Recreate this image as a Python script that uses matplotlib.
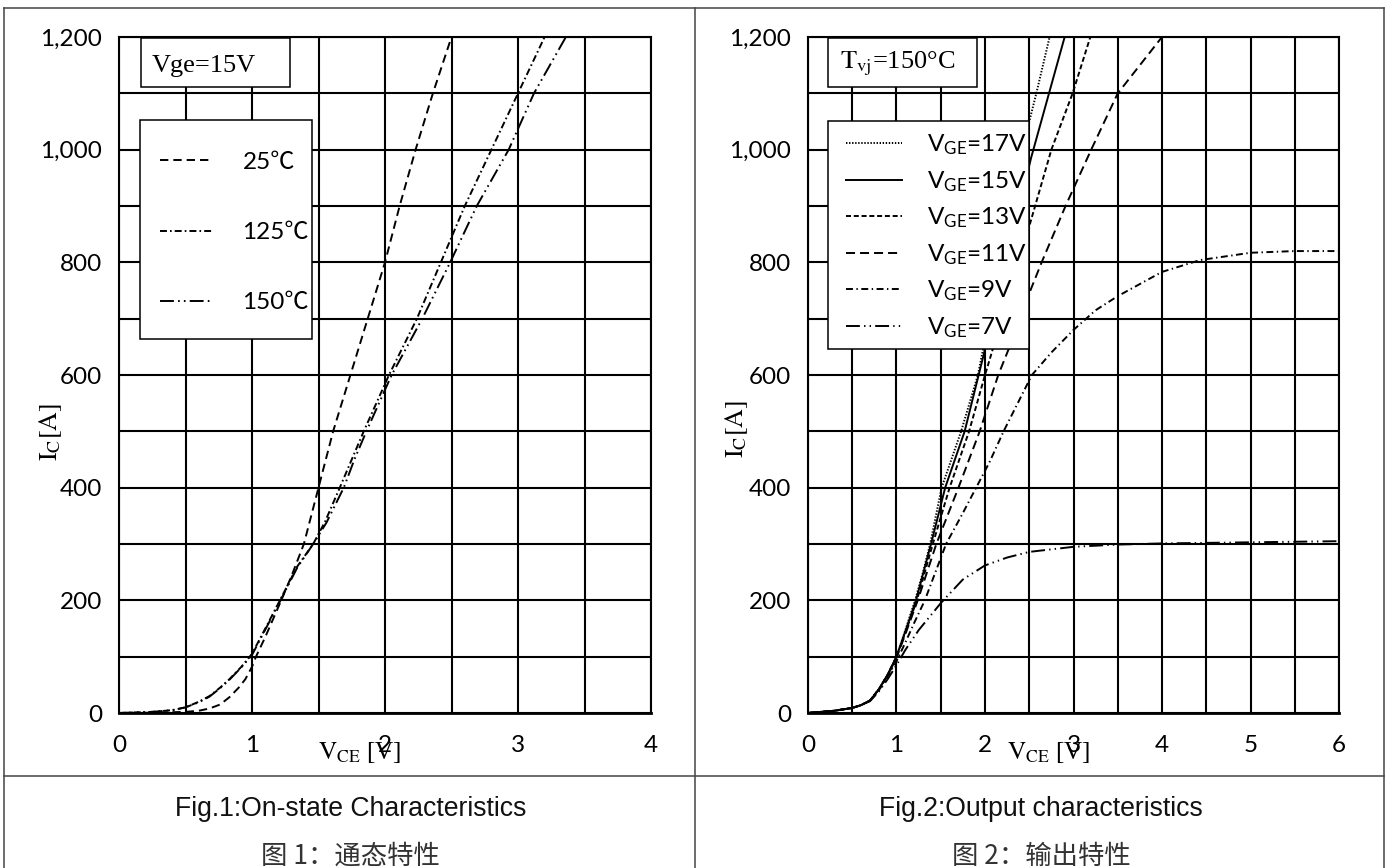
import matplotlib
matplotlib.use('Agg')
import matplotlib.pyplot as plt
from matplotlib.lines import Line2D
from matplotlib.patches import Rectangle
from matplotlib.ticker import FuncFormatter, MultipleLocator
from matplotlib.font_manager import FontProperties

# ---------------- data ----------------
# Fig.1  On-state characteristics (Vge = 15 V)
v_25 = [0.00, 0.25, 0.50, 0.60, 0.68, 0.76, 0.83, 0.90, 0.95, 1.00, 1.03, 1.10, 1.22, 1.30, 1.39,
        1.50, 1.61, 1.74, 1.87, 2.00, 2.11, 2.23, 2.36, 2.50]
i_25 = [0, 0.5, 2, 4, 8, 15, 28, 45, 60, 82, 100, 135, 200, 245, 300,
        400, 500, 600, 700, 800, 900, 1000, 1100, 1200]
v_125 = [0.00, 0.25, 0.40, 0.50, 0.60, 0.68, 0.76, 0.83, 0.92, 1.00, 1.10, 1.21, 1.34, 1.46, 1.55,
         1.66, 1.75, 1.84, 2.03, 2.24, 2.42, 2.60, 2.80, 3.00, 3.20]
i_125 = [0, 2, 5, 10, 20, 30, 45, 60, 82, 105, 150, 200, 260, 300, 340,
         400, 450, 500, 600, 700, 800, 900, 1000, 1100, 1200]
v_150 = [0.00, 0.25, 0.40, 0.50, 0.60, 0.68, 0.76, 0.83, 0.92, 1.00, 1.10, 1.21, 1.34, 1.46, 1.56,
         1.69, 1.77, 1.86, 2.05, 2.28, 2.49, 2.69, 2.93, 3.12, 3.36]
i_150 = [0, 2, 5, 10, 19, 29, 44, 59, 81, 103, 148, 198, 258, 300, 338,
         400, 450, 500, 600, 700, 800, 900, 1000, 1100, 1200]
temp_labels = ['25℃', '125℃', '150℃']

# Fig.2  Output characteristics (Tvj = 150 °C)
v_17 = [0.00, 0.30, 0.50, 0.60, 0.70, 0.80, 0.90, 1.00, 1.10, 1.21, 1.30, 1.38, 1.51, 1.62, 1.73,
        1.92, 2.20, 2.50, 2.58, 2.73]
i_17 = [0, 4, 9, 14, 22, 42, 68, 100, 147, 200, 250, 300, 400, 450, 500,
        600, 820, 1050, 1100, 1200]
v_15 = [0.00, 0.30, 0.50, 0.60, 0.70, 0.80, 0.90, 1.00, 1.10, 1.22, 1.39, 1.55, 1.77, 1.96, 2.24,
        2.52, 2.90]
i_15 = [0, 4, 9, 14, 22, 42, 68, 100, 145, 200, 300, 400, 500, 620, 800,
        985, 1200]
v_13 = [0.00, 0.30, 0.50, 0.60, 0.70, 0.80, 0.90, 1.00, 1.10, 1.23, 1.41, 1.60, 1.82, 2.00, 2.09,
        2.50, 2.75, 2.99, 3.19]
i_13 = [0, 4, 9, 14, 22, 42, 68, 100, 143, 200, 300, 400, 500, 600, 647,
        864, 1000, 1100, 1200]
v_11 = [0.00, 0.30, 0.50, 0.60, 0.70, 0.80, 0.90, 1.00, 1.10, 1.24, 1.45, 1.70, 1.94, 2.15, 2.27,
        2.50, 2.64, 2.91, 3.20, 3.50, 4.00]
i_11 = [0, 4, 9, 14, 22, 42, 67, 98, 140, 200, 300, 400, 500, 600, 647,
        745, 800, 900, 1000, 1100, 1200]
v_9 = [0.00, 0.30, 0.50, 0.60, 0.70, 0.80, 0.90, 1.00, 1.10, 1.20, 1.32, 1.44, 1.56, 1.75, 1.90,
       2.05, 2.21, 2.37, 2.53, 2.75, 3.00, 3.25, 3.50, 4.00, 4.43, 5.00, 5.50, 6.00]
i_9 = [0, 4, 9, 14, 22, 40, 65, 92, 125, 160, 200, 250, 300, 355, 400,
       445, 500, 550, 600, 640, 680, 715, 740, 783, 804, 817, 820, 820]
v_7 = [0.00, 0.30, 0.50, 0.60, 0.70, 0.80, 0.90, 1.00, 1.10, 1.25, 1.50, 1.75, 2.00, 2.25, 2.50,
       3.00, 3.50, 4.00, 5.00, 6.00]
i_7 = [0, 4, 9, 14, 21, 38, 60, 85, 112, 147, 195, 237, 262, 276, 286,
       295, 299, 301, 303, 305]
vge_labels = [r'$\mathrm{V_{GE}}$=17V', r'$\mathrm{V_{GE}}$=15V', r'$\mathrm{V_{GE}}$=13V',
              r'$\mathrm{V_{GE}}$=11V', r'$\mathrm{V_{GE}}$=9V', r'$\mathrm{V_{GE}}$=7V']

x_ticks_1 = [0, 1, 2, 3, 4]
x_ticks_2 = [0, 1, 2, 3, 4, 5, 6]
y_ticks = [0, 200, 400, 600, 800, 1000, 1200]

caption_en = ['Fig.1:On-state Characteristics', 'Fig.2:Output characteristics']
caption_cn = ['图 1：通态特性', '图 2：输出特性']

# ---------------- style ----------------
plt.rcParams['font.family'] = ['Lato', 'Noto Sans CJK SC', 'DejaVu Sans']
plt.rcParams['mathtext.fontset'] = 'custom'
plt.rcParams['mathtext.rm'] = 'Lato'
plt.rcParams['mathtext.it'] = 'Lato:italic'
plt.rcParams['mathtext.bf'] = 'Lato:bold'
plt.rcParams['lines.scale_dashes'] = False

W, H = 1386, 868
fig = plt.figure(figsize=(W / 100, H / 100), dpi=100)

ax1 = fig.add_axes([119 / W, 1 - 713 / H, 532 / W, 676 / H])
ax2 = fig.add_axes([808 / W, 1 - 713 / H, 531 / W, 676 / H])

LW = 1.4
ls_25 = (0, (6.0, 3.6))
ls_125 = (0, (5.0, 2.2, 1.2, 2.2))
ls_150 = (0, (10, 3, 1.2, 3, 1.2, 3))
ls_17 = (0, (1.0, 1.2))
ls_15 = '-'
ls_13 = (0, (3.6, 2.0))
ls_11 = (0, (6.5, 3.6))
ls_9 = (0, (5.0, 2.5, 1.0, 2.5))
ls_7 = (0, (10, 3, 1.0, 3, 1.0, 3))

serif = ['Liberation Serif', 'DejaVu Serif']


def style_axes(ax, xmax, xticks):
    ax.set_xlim(0, xmax)
    ax.set_ylim(0, 1200)
    ax.set_xticks(xticks)
    ax.set_yticks(y_ticks)
    ax.xaxis.set_minor_locator(MultipleLocator(0.5))
    ax.yaxis.set_minor_locator(MultipleLocator(100))
    ax.grid(True, which='both', color='black', lw=1.5)
    ax.set_axisbelow(True)
    ax.tick_params(which='both', length=0)
    ax.tick_params(axis='y', pad=12, labelsize=17.5)
    ax.tick_params(axis='x', pad=16, labelsize=17.5)
    ax.yaxis.set_major_formatter(FuncFormatter(lambda v, p: f'{int(v):,}'))
    for s in ax.spines.values():
        s.set_linewidth(1.5)
        s.set_color('black')
    ax.spines['bottom'].set_linewidth(2.0)


style_axes(ax1, 4, x_ticks_1)
style_axes(ax2, 6, x_ticks_2)

# ---- Fig.1 curves ----
l25, = ax1.plot(v_25, i_25, color='black', lw=LW, ls=ls_25, zorder=2)
l125, = ax1.plot(v_125, i_125, color='black', lw=LW, ls=ls_125, zorder=2)
l150, = ax1.plot(v_150, i_150, color='black', lw=LW, ls=ls_150, zorder=2)

# ---- Fig.2 curves ----
lines2 = []
for v, i, ls in [(v_17, i_17, ls_17), (v_15, i_15, ls_15), (v_13, i_13, ls_13),
                 (v_11, i_11, ls_11), (v_9, i_9, ls_9), (v_7, i_7, ls_7)]:
    ln, = ax2.plot(v, i, color='black', lw=LW, ls=ls, zorder=2)
    lines2.append(ln)


def box(ax, x0, y0, x1, y1):
    ax.add_patch(Rectangle((x0, y0), x1 - x0, y1 - y0, transform=ax.transAxes,
                           facecolor='white', edgecolor='black', lw=1.1,
                           zorder=4, clip_on=False))


# condition boxes
box(ax1, 0.0414, 0.926, 0.3214, 0.9985)
ax1.text(0.062, 0.9487, 'Vge=15V', transform=ax1.transAxes, family=serif, size=19,
         ha='left', va='baseline', zorder=6)
box(ax2, 0.0386, 0.9265, 0.3183, 0.9985)
ax2.text(0.061, 0.9537, r'$\mathrm{T_{vj}}$=150°C', transform=ax2.transAxes, family=serif,
         size=19, ha='left', va='baseline', zorder=6, math_fontfamily='stix')

# legend boxes
box(ax1, 0.0395, 0.5533, 0.3628, 0.8772)
leg1 = ax1.legend([l25, l125, l150], temp_labels, loc='upper left',
                  bbox_to_anchor=(0.0771, 0.8300), bbox_transform=ax1.transAxes,
                  frameon=False, borderpad=0, borderaxespad=0, handlelength=2.12,
                  handletextpad=1.27, labelspacing=2.02,
                  prop=FontProperties(family=['Lato', 'Noto Sans CJK SC'], size=17.5))
leg1.set_zorder(6)

box(ax2, 0.0377, 0.5385, 0.4153, 0.876)
leg2 = ax2.legend(lines2, vge_labels, loc='upper left',
                  bbox_to_anchor=(0.0716, 0.8585), bbox_transform=ax2.transAxes,
                  frameon=False, borderpad=0, borderaxespad=0, handlelength=2.29,
                  handletextpad=1.06, labelspacing=0.49,
                  prop=FontProperties(family=['Lato', 'Noto Sans CJK SC'], size=17.5))
leg2.set_zorder(6)

# axis labels (placed as in the reference, overlapping the middle tick label)
for ax in (ax1, ax2):
    ax.text(0.453, -0.068, r'$\mathrm{V_{CE}}$ [V]', transform=ax.transAxes, family=serif,
            size=18, ha='center', va='baseline', math_fontfamily='stix')
ax1.text(-0.128, 0.4157, r'$\mathrm{I_C[A]}$', transform=ax1.transAxes, rotation=90,
         size=18.5, ha='center', va='center', math_fontfamily='stix')
ax2.text(-0.1337, 0.42, r'$\mathrm{I_C[A]}$', transform=ax2.transAxes, rotation=90,
         size=18.5, ha='center', va='center', math_fontfamily='stix')

# outer table frame
frame_color = '#444444'
for (x0, y0, x1, y1) in [(4, 8, 1384, 8), (4, 8, 4, 868), (695, 8, 695, 868),
                         (1384, 8, 1384, 868), (4, 776, 1384, 776)]:
    fig.add_artist(Line2D([x0 / W, x1 / W], [1 - y0 / H, 1 - y1 / H],
                          transform=fig.transFigure, color=frame_color, lw=1.1))

# captions
for cx, en, cn in [(350.5, caption_en[0], caption_cn[0]), (1041, caption_en[1], caption_cn[1])]:
    fig.text(cx / W, 1 - 809 / H, en, ha='center', va='center',
             family=['Liberation Sans', 'DejaVu Sans'], size=19.2, color='#111111')
    fig.text(cx / W, 1 - 856 / H, cn, ha='center', va='center',
             family=['Noto Sans CJK SC', 'DejaVu Sans'], size=19, color='#333333')

fig.savefig('out.png', dpi=100)
